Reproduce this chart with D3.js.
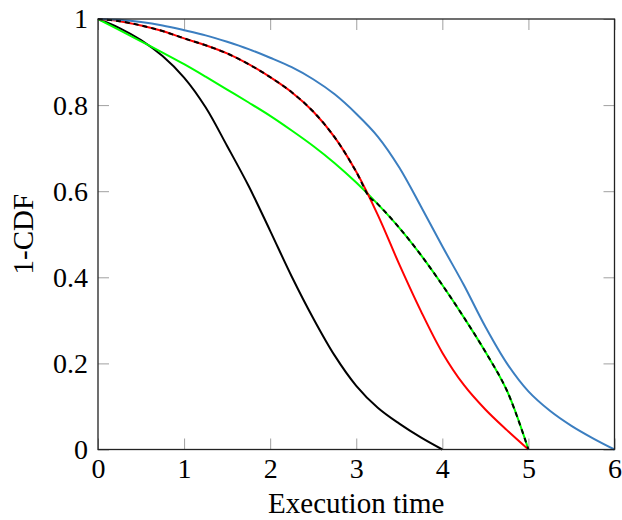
<!DOCTYPE html>
<html>
<head>
<meta charset="utf-8">
<script src="https://cdn.jsdelivr.net/npm/d3@7"></script>
<style>
  body { margin: 0; background: #fff; }
  text { font-family: "Liberation Serif", "DejaVu Serif", serif; }
</style>
</head>
<body>
<script>
// x samples (execution time) and 1-CDF values per curve
const xBlack = [0,0.25,0.5,0.75,1,1.25,1.5,1.75,2,2.25,2.5,2.75,3,3.25,3.5,3.75,4];
const yBlack = [1,0.979,0.951,0.914,0.864,0.795,0.705,0.612,0.508,0.402,0.305,0.218,0.148,0.097,0.06,0.028,0];

const xRed = [0,0.25,0.5,0.75,1,1.25,1.5,1.75,2,2.25,2.5,2.75,3,3.25,3.5,3.75,4,4.25,4.5,4.75,5];
const yRed = [1,0.995,0.985,0.972,0.955,0.939,0.92,0.895,0.865,0.83,0.785,0.725,0.645,0.545,0.43,0.322,0.225,0.15,0.093,0.045,0];

const xGreen = [0,0.25,0.5,0.75,1,1.25,1.5,1.75,2,2.25,2.5,2.75,3,3.25,3.5,3.75,4,4.25,4.5,4.75,5];
const yGreen = [1,0.974,0.948,0.922,0.895,0.866,0.836,0.806,0.775,0.741,0.705,0.665,0.62,0.57,0.515,0.452,0.382,0.307,0.227,0.137,0];

const xBlue = [0,0.25,0.5,0.75,1,1.25,1.5,1.75,2,2.25,2.5,2.75,3,3.25,3.5,3.75,4,4.25,4.5,4.75,5,5.25,5.5,5.75,6];
const yBlue = [1,0.998,0.993,0.985,0.974,0.962,0.947,0.93,0.91,0.888,0.86,0.825,0.78,0.727,0.655,0.565,0.472,0.382,0.285,0.2,0.135,0.09,0.055,0.026,0];

// dashed black: upper envelope of red and green
const xDash = [0,0.25,0.5,0.75,1,1.25,1.5,1.75,2,2.25,2.5,2.75,3,3.15,3.25,3.5,3.75,4,4.25,4.5,4.75,5];
const yDash = [1,0.995,0.985,0.972,0.955,0.939,0.92,0.895,0.865,0.83,0.785,0.725,0.645,0.587,0.57,0.515,0.452,0.382,0.307,0.227,0.137,0];

const xTicks = [0,1,2,3,4,5,6];
const yTicks = [0,0.2,0.4,0.6,0.8,1];

const width = 622, height = 520;
const margin = {top: 19, right: 7.5, bottom: 70.5, left: 98};
const w = width - margin.left - margin.right;
const h = height - margin.top - margin.bottom;

const svg = d3.select("body").append("svg")
    .attr("width", width)
    .attr("height", height);

const g = svg.append("g")
    .attr("transform", `translate(${margin.left},${margin.top})`);

const x = d3.scaleLinear().domain([0, 6]).range([0, w]);
const y = d3.scaleLinear().domain([0, 1]).range([h, 0]);

const fmt = d => d === 0 || d === 1 ? String(d) : d.toFixed(1);

// axes with inward ticks, mirrored on top/right
g.append("g")
    .attr("transform", `translate(0,${h})`)
    .call(d3.axisBottom(x).tickValues(xTicks).tickSize(-11).tickPadding(9).tickFormat(d3.format("d")))
    .call(a => a.select(".domain").remove());
g.append("g")
    .call(d3.axisTop(x).tickValues(xTicks).tickSize(-11).tickFormat(""))
    .call(a => a.select(".domain").remove());
g.append("g")
    .call(d3.axisLeft(y).tickValues(yTicks).tickSize(-11).tickPadding(10).tickFormat(fmt))
    .call(a => a.select(".domain").remove());
g.append("g")
    .attr("transform", `translate(${w},0)`)
    .call(d3.axisRight(y).tickValues(yTicks).tickSize(-11).tickFormat(""))
    .call(a => a.select(".domain").remove());

g.selectAll(".tick line").attr("stroke", "#a0a0a0").attr("stroke-width", 1);
g.selectAll(".tick text")
    .attr("font-size", 28)
    .attr("fill", "#000")
    .style("font-family", "'Liberation Serif', serif");

const line = d3.line()
    .x(d => x(d[0]))
    .y(d => y(d[1]))
    .curve(d3.curveCatmullRom.alpha(0.5));

const series = [
  {xs: xBlack, ys: yBlack, color: "#000000"},
  {xs: xGreen, ys: yGreen, color: "#00ff00"},
  {xs: xRed, ys: yRed, color: "#ff0000"},
  {xs: xBlue, ys: yBlue, color: "#3b7ec0"},
  {xs: xDash, ys: yDash, color: "#000000", dash: "5,4"}
];

g.selectAll("path.series")
  .data(series)
  .join("path")
    .attr("class", "series")
    .attr("fill", "none")
    .attr("stroke", d => d.color)
    .attr("stroke-width", 2)
    .attr("stroke-dasharray", d => d.dash || null)
    .attr("d", d => line(d.xs.map((v, i) => [v, d.ys[i]])));

// frame
g.append("rect")
    .attr("width", w)
    .attr("height", h)
    .attr("fill", "none")
    .attr("stroke", "#222")
    .attr("stroke-width", 1.3);

// axis titles
svg.append("text")
    .attr("x", margin.left + w / 2)
    .attr("y", 513)
    .attr("text-anchor", "middle")
    .attr("font-size", 29)
    .text("Execution time");

svg.append("text")
    .attr("transform", `translate(33,${margin.top + h / 2}) rotate(-90)`)
    .attr("text-anchor", "middle")
    .attr("font-size", 29)
    .text("1-CDF");
</script>
</body>
</html>
